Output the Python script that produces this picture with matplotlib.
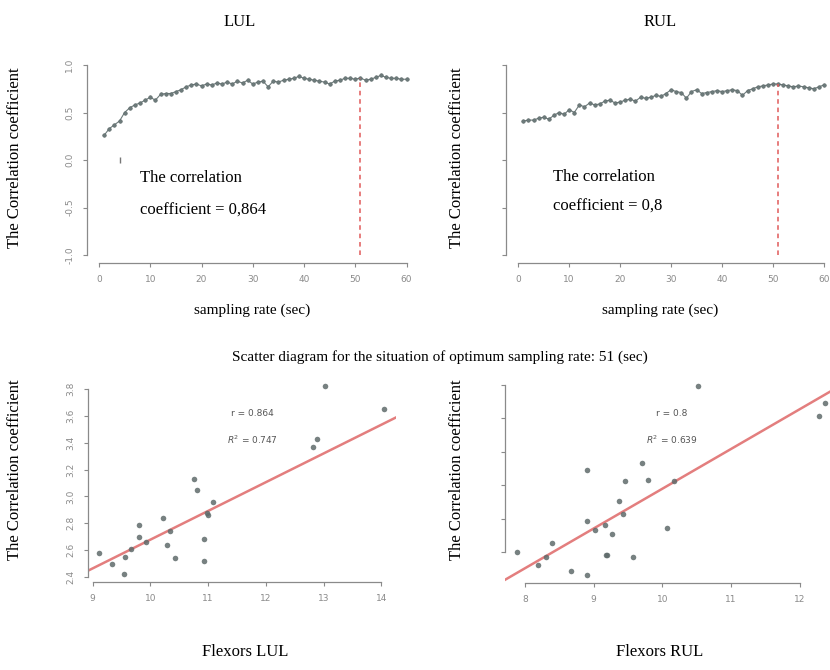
import matplotlib
matplotlib.use("Agg")
import matplotlib.pyplot as plt
import numpy as np

# ---- data ----
rate = np.arange(1, 61)
lul_corr = [0.26, 0.33, 0.37, 0.41, 0.50, 0.55, 0.58, 0.60, 0.63, 0.66,
            0.63, 0.69, 0.70, 0.70, 0.72, 0.74, 0.77, 0.79, 0.80, 0.78,
            0.80, 0.79, 0.81, 0.80, 0.82, 0.80, 0.83, 0.81, 0.84, 0.80,
            0.82, 0.83, 0.77, 0.83, 0.82, 0.84, 0.85, 0.86, 0.88, 0.86,
            0.85, 0.84, 0.83, 0.82, 0.80, 0.83, 0.84, 0.86, 0.86, 0.85,
            0.864, 0.84, 0.85, 0.87, 0.89, 0.87, 0.86, 0.86, 0.85, 0.85]
lul_outlier = (4, 0.0)
rul_corr = [0.41, 0.42, 0.42, 0.44, 0.45, 0.43, 0.47, 0.50, 0.48, 0.53,
            0.50, 0.58, 0.56, 0.60, 0.58, 0.59, 0.62, 0.63, 0.60, 0.61,
            0.63, 0.64, 0.62, 0.66, 0.65, 0.66, 0.68, 0.67, 0.70, 0.74,
            0.72, 0.71, 0.65, 0.72, 0.74, 0.70, 0.71, 0.72, 0.73, 0.72,
            0.73, 0.74, 0.73, 0.68, 0.73, 0.75, 0.77, 0.78, 0.79, 0.80,
            0.80, 0.79, 0.78, 0.77, 0.78, 0.77, 0.76, 0.75, 0.77, 0.79]
opt_rate = 51

lul_x = [9.11, 9.33, 9.56, 9.55, 9.66, 9.80, 9.81, 9.92, 10.22, 10.28,
         10.34, 10.42, 10.76, 10.81, 10.93, 10.92, 10.98, 11.00, 11.09,
         12.82, 12.89, 13.02, 14.05]
lul_y = [2.58, 2.50, 2.55, 2.42, 2.61, 2.70, 2.79, 2.66, 2.84, 2.64,
         2.74, 2.54, 3.13, 3.05, 2.68, 2.52, 2.88, 2.86, 2.96,
         3.37, 3.43, 3.82, 3.65]
lul_fit = (0.538, 0.214)

rul_x = [7.89, 8.19, 8.31, 8.40, 8.67, 8.90, 8.90, 8.91, 9.02, 9.16,
         9.18, 9.20, 9.26, 9.37, 9.42, 9.45, 9.57, 9.71, 9.79, 10.06,
         10.17, 10.52, 12.28, 12.36]
rul_y = [1.00, 0.62, 0.87, 1.29, 0.45, 3.46, 1.94, 0.32, 1.67, 1.82,
         0.92, 0.92, 1.55, 2.52, 2.14, 3.14, 0.87, 3.66, 3.16, 1.74,
         3.14, 5.97, 5.07, 5.47]
rul_fit = (-8.99, 1.189)

W, H = 830, 670
fig = plt.figure(figsize=(W / 100, H / 100), dpi=100)
serif = "Liberation Serif"
gray = "#8a8a8a"
pt_col = "#5f6b6b"


def px_axes(l, t, r, b):
    return fig.add_axes([l / W, 1 - b / H, (r - l) / W, (b - t) / H])


def ftext(x, y, s, **kw):
    kw.setdefault("family", serif)
    kw.setdefault("ha", "center")
    kw.setdefault("va", "center")
    fig.text(x / W, 1 - y / H, s, **kw)


def r_style(ax, xt, yt, ylabels=True):
    for s in ["top", "right"]:
        ax.spines[s].set_visible(False)
    for s in ["left", "bottom"]:
        ax.spines[s].set_color(gray)
        ax.spines[s].set_linewidth(0.9)
    ax.set_xticks(xt)
    ax.set_yticks(yt)
    ax.spines["bottom"].set_bounds(xt[0], xt[-1])
    ax.spines["left"].set_bounds(yt[0], yt[-1])
    ax.tick_params(colors=gray, labelsize=6.5, length=3, width=0.8, pad=6)
    if ylabels:
        for lab in ax.get_yticklabels():
            lab.set_rotation(90)
            lab.set_va("center")
    else:
        ax.set_yticklabels([])


# ---- top left ----
ax1 = px_axes(86.7, 57.4, 418.8, 262.6)
ax1.plot(rate, lul_corr, "-o", lw=0.8, ms=2.6, color="#6d7b7b", mec="#5a6666", mew=0.4)
ax1.plot(*lul_outlier, "|", ms=5, color="#777777")
ax1.plot([opt_rate, opt_rate], [-1.0, lul_corr[opt_rate - 1]], color="#e05a5a",
         lw=1.1, dashes=(3, 2.5))
ax1.set_xlim(-2.4, 62.4)
ax1.set_ylim(-1.08, 1.08)
r_style(ax1, [0, 10, 20, 30, 40, 50, 60], [-1.0, -0.5, 0.0, 0.5, 1.0])
ax1.set_yticklabels(["-1.0", "-0.5", "0.0", "0.5", "1.0"])
for lab in ax1.get_yticklabels():
    lab.set_rotation(90)
    lab.set_va("center")

# ---- top right ----
ax2 = px_axes(506, 57.4, 836.2, 262.6)
ax2.plot(rate, rul_corr, "-o", lw=0.8, ms=2.6, color="#6d7b7b", mec="#5a6666", mew=0.4)
ax2.plot([opt_rate, opt_rate], [-1.0, rul_corr[opt_rate - 1]], color="#e05a5a",
         lw=1.1, dashes=(3, 2.5))
ax2.set_xlim(-2.4, 62.4)
ax2.set_ylim(-1.08, 1.08)
r_style(ax2, [0, 10, 20, 30, 40, 50, 60], [-1.0, -0.5, 0.0, 0.5, 1.0], ylabels=False)

# ---- bottom left ----
ax3 = px_axes(87.5, 378.8, 395.8, 581.8)
ax3.scatter(lul_x, lul_y, s=16, color=pt_col, alpha=0.85, lw=0, zorder=3)
xs = np.array([8.91, 14.25])
ax3.plot(xs, lul_fit[0] + lul_fit[1] * xs, color="#e07070", lw=1.8, alpha=0.9)
ax3.set_xlim(8.91, 14.25)
ax3.set_ylim(2.364, 3.876)
r_style(ax3, [9, 10, 11, 12, 13, 14], [2.4, 2.6, 2.8, 3.0, 3.2, 3.4, 3.6, 3.8])

# ---- bottom right ----
ax4 = px_axes(505, 378.4, 837, 582.6)
ax4.scatter(rul_x, rul_y, s=16, color=pt_col, alpha=0.85, lw=0, zorder=3)
xs = np.array([7.71, 12.54])
ax4.plot(xs, rul_fit[0] + rul_fit[1] * xs, color="#e07070", lw=1.8, alpha=0.9)
ax4.set_xlim(7.71, 12.54)
ax4.set_ylim(0.094, 6.196)
r_style(ax4, [8, 9, 10, 11, 12], [1, 2, 3, 4, 5, 6], ylabels=False)

# ---- texts ----
ftext(240, 22, "LUL", fontsize=12)
ftext(660, 22, "RUL", fontsize=12)
ftext(252, 310, "sampling rate (sec)", fontsize=11)
ftext(660, 310, "sampling rate (sec)", fontsize=11)
ftext(440, 357, "Scatter diagram for the situation of optimum sampling rate: 51 (sec)",
      fontsize=11)
ftext(245, 652, "Flexors LUL", fontsize=12)
ftext(660, 652, "Flexors RUL", fontsize=12)
for x, y in [(15, 158), (457, 158), (15, 470), (457, 470)]:
    ftext(x, y, "The Correlation coefficient", fontsize=12, rotation=90)

ftext(140, 178, "The correlation", fontsize=12, ha="left")
ftext(140, 211, "coefficient = 0,864", fontsize=12, ha="left")
ftext(553, 177, "The correlation", fontsize=12, ha="left")
ftext(553, 207, "coefficient = 0,8", fontsize=12, ha="left")

ftext(252, 413, "r = 0.864", fontsize=6.5, family="DejaVu Sans", color="#555555")
ftext(252, 440, "$R^2$ = 0.747", fontsize=6.5, family="DejaVu Sans", color="#555555")
ftext(672, 413, "r = 0.8", fontsize=6.5, family="DejaVu Sans", color="#555555")
ftext(672, 440, "$R^2$ = 0.639", fontsize=6.5, family="DejaVu Sans", color="#555555")

fig.savefig("out.png", dpi=100)
